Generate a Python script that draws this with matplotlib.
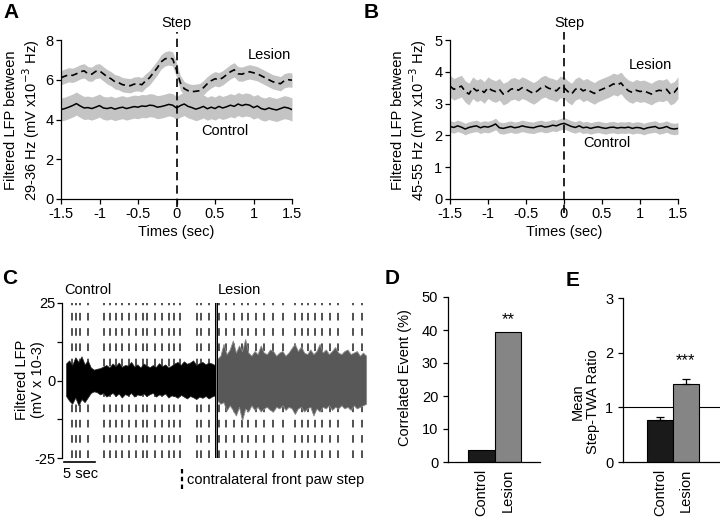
import numpy as np
import matplotlib
matplotlib.use("Agg")
import matplotlib.pyplot as plt
from matplotlib.lines import Line2D

plt.rcParams["font.family"] = ["Liberation Sans", "DejaVu Sans"]
plt.rcParams["font.size"] = 10
plt.rcParams["axes.linewidth"] = 0.9
plt.rcParams["xtick.direction"] = "out"
plt.rcParams["ytick.direction"] = "out"
plt.rcParams["xtick.major.size"] = 3.5
plt.rcParams["ytick.major.size"] = 3.5
plt.rcParams["xtick.major.width"] = 0.9
plt.rcParams["ytick.major.width"] = 0.9

# ---- panel A: 29-36 Hz, mean +/- SEM around the step (0.05 s grid) ----
lesion_A = [6.10, 6.18, 6.25, 6.22, 6.30, 6.40, 6.45, 6.30, 6.28, 6.42, 6.45, 6.30,
            6.15, 6.05, 5.90, 5.85, 5.75, 5.72, 5.70, 5.78, 5.80, 5.75, 5.95, 6.10,
            6.35, 6.60, 6.90, 7.05, 7.10, 7.05, 6.50, 5.85, 5.55, 5.45, 5.40, 5.42,
            5.45, 5.60, 5.80, 5.95, 6.05, 6.00, 6.10, 6.25, 6.40, 6.50, 6.30, 6.28,
            6.35, 6.40, 6.35, 6.30, 6.20, 6.10, 6.00, 5.90, 5.85, 5.80, 5.95, 6.00,
            5.98]
control_A = [4.50, 4.55, 4.62, 4.70, 4.80, 4.68, 4.58, 4.60, 4.55, 4.62, 4.70, 4.58,
             4.55, 4.60, 4.52, 4.58, 4.62, 4.55, 4.60, 4.65, 4.62, 4.68, 4.66, 4.72,
             4.70, 4.62, 4.65, 4.70, 4.76, 4.72, 4.58, 4.70, 4.78, 4.66, 4.60, 4.52,
             4.58, 4.66, 4.54, 4.62, 4.55, 4.66, 4.58, 4.64, 4.72, 4.66, 4.78, 4.70,
             4.76, 4.72, 4.60, 4.68, 4.55, 4.50, 4.58, 4.52, 4.48, 4.55, 4.62, 4.58,
             4.50]
sem_lesion_A = 0.36
sem_control_A = 0.58

# ---- panel B: 45-55 Hz ----
lesion_B = [3.55, 3.45, 3.50, 3.55, 3.38, 3.30, 3.50, 3.40, 3.45, 3.35, 3.50, 3.42,
            3.38, 3.45, 3.30, 3.35, 3.45, 3.48, 3.42, 3.50, 3.45, 3.38, 3.32, 3.40,
            3.50, 3.55, 3.48, 3.45, 3.40, 3.52, 3.50, 3.38, 3.30, 3.45, 3.50, 3.40,
            3.45, 3.38, 3.32, 3.40, 3.45, 3.50, 3.55, 3.62, 3.58, 3.65, 3.50, 3.40,
            3.35, 3.42, 3.38, 3.40, 3.35, 3.30, 3.38, 3.42, 3.40, 3.45, 3.30, 3.35,
            3.50]
control_B = [2.28, 2.25, 2.30, 2.26, 2.20, 2.25, 2.28, 2.30, 2.24, 2.28, 2.26, 2.30,
             2.36, 2.24, 2.22, 2.25, 2.28, 2.24, 2.26, 2.30, 2.27, 2.25, 2.24, 2.28,
             2.30, 2.26, 2.28, 2.32, 2.30, 2.35, 2.38, 2.33, 2.28, 2.25, 2.30, 2.24,
             2.26, 2.22, 2.25, 2.27, 2.24, 2.22, 2.25, 2.26, 2.23, 2.25, 2.24, 2.26,
             2.22, 2.25, 2.24, 2.20, 2.24, 2.26, 2.28, 2.22, 2.24, 2.28, 2.22, 2.20,
             2.22]
sem_lesion_B = 0.34
sem_control_B = 0.18

# ---- panel C: LFP envelope (0.5 s grid) and step times (sec) ----
ctrl_start, lesion_start = 0.0, 24.4
ctrl_upper = [5.5, 6.5, 5.0, 7.5, 6.0, 7.8, 5.2, 6.5, 4.2, 3.5, 3.8, 4.0, 4.5, 5.0,
              4.2, 5.5, 4.6, 5.8, 4.4, 5.0, 4.8, 6.0, 4.5, 5.2, 4.2, 5.5, 4.8, 4.3,
              5.0, 4.4, 5.6, 4.6, 5.2, 4.2, 4.8, 5.5, 6.0, 5.0, 6.2, 5.4, 5.8, 6.5,
              5.0, 5.6, 6.0, 5.2, 5.8, 5.5, 5.0]
ctrl_lower = [-5.0, -6.5, -7.5, -5.5, -8.0, -6.0, -7.0, -5.5, -4.0, -3.5, -3.8, -4.5,
              -4.0, -5.2, -4.6, -4.0, -5.0, -4.2, -5.5, -4.4, -4.8, -4.0, -5.2, -4.5,
              -4.8, -4.2, -5.0, -4.4, -4.0, -5.2, -4.5, -4.8, -4.2, -5.5, -4.8, -5.0,
              -5.6, -4.6, -5.2, -5.8, -5.0, -5.4, -6.0, -5.2, -5.6, -5.0, -5.8, -5.2,
              -4.8]
lesion_upper = [7.0, 8.0, 11.8, 8.5, 10.0, 12.9, 9.0, 11.3, 9.5, 13.4, 9.0, 8.0, 9.5,
                8.5, 11.3, 9.0, 8.5, 10.0, 9.5, 8.0, 9.0, 9.5, 8.0, 9.0, 10.5, 11.8,
                9.5, 11.0, 9.0, 8.5, 10.0, 8.5, 9.5, 11.8, 9.0, 10.0, 8.5, 9.5, 10.8,
                9.0, 8.5, 9.5, 10.0, 8.5, 9.0, 9.5, 8.0, 9.0, 8.0]
lesion_lower = [-6.5, -7.5, -7.0, -9.7, -8.0, -9.5, -11.3, -8.5, -12.9, -9.0, -10.0,
                -8.0, -9.5, -8.5, -10.0, -9.0, -8.5, -9.5, -10.0, -8.5, -9.0, -8.0,
                -9.5, -8.5, -9.0, -10.8, -9.0, -8.5, -10.0, -9.0, -8.5, -11.3, -9.0,
                -10.0, -8.5, -9.0, -8.0, -9.5, -8.5, -9.0, -8.0, -9.0, -8.5, -9.5,
                -8.0, -9.0, -8.5, -8.0, -7.5]
lesion_onset = 24.2
steps_ctrl = [0.92, 1.56, 2.26, 3.55, 6.18, 7.10, 8.06, 9.03, 10.08, 11.21, 12.42,
              13.06, 14.35, 15.48, 16.53, 17.42, 18.39, 21.13, 21.73, 22.98]
steps_lesion = [24.68, 25.81, 27.10, 28.34, 29.40, 30.65, 31.94, 33.34, 34.95, 36.94,
                38.02, 39.08, 40.16, 41.24, 42.58, 43.92, 46.24, 47.69]

# ---- panels D, E ----
groups = ["Control", "Lesion"]
correlated_event = [3.5, 39.5]
twa_ratio = [0.77, 1.43]
twa_err = [0.06, 0.09]
bar_colors = ["#1a1a1a", "#858585"]

W, H = 720, 525
fig = plt.figure(figsize=(W / 100, H / 100), dpi=100)


def px_axes(left, top, right, bottom):
    return fig.add_axes([left / W, 1 - bottom / H, (right - left) / W, (bottom - top) / H])


def px_text(x, y, s, **kw):
    fig.text(x / W, 1 - y / H, s, **kw)


def style(ax, spines=("left", "bottom")):
    for side in ("left", "right", "top", "bottom"):
        ax.spines[side].set_visible(side in spines)


def step_panel(ax, lesion, control, sem_l, sem_c, ymax, step_top, step_bot):
    t = np.linspace(-1.5, 1.5, len(lesion))
    les, ctl = np.array(lesion), np.array(control)
    ax.fill_between(t, les - sem_l, les + sem_l, color="#c4c4c4", lw=0)
    ax.fill_between(t, ctl - sem_c, ctl + sem_c, color="#c4c4c4", lw=0)
    ax.plot(t, les, color="black", lw=1.2, ls=(0, (4, 2.5)))
    ax.plot(t, ctl, color="black", lw=1.1)
    ax.plot([0, 0], [step_bot, step_top], color="black", lw=1.2,
            ls=(0, (5, 3)), clip_on=False)
    ax.set_xlim(-1.5, 1.5)
    ax.set_ylim(0, ymax)
    ax.set_xticks([-1.5, -1, -0.5, 0, 0.5, 1, 1.5])
    ax.set_xticklabels(["-1.5", "-1", "-0.5", "0", "0.5", "1", "1.5"])
    ax.tick_params(labelsize=10.5, pad=2)
    ax.set_xlabel("Times (sec)", fontsize=10.5, labelpad=3)
    style(ax)


# A
axA = px_axes(61, 40, 292, 199)
step_panel(axA, lesion_A, control_A, sem_lesion_A, sem_control_A, 8, 8.4, -0.4)
axA.set_yticks([0, 2, 4, 6, 8])
axA.text(1.21, 7.24, "Lesion", ha="center", va="center", fontsize=10.5)
axA.text(0.63, 3.42, "Control", ha="center", va="center", fontsize=10.5)
px_text(23, 120, "Filtered LFP between\n29-36 Hz (mV x10$^{-3}$ Hz)", rotation=90,
        ha="center", va="center", fontsize=10.5, linespacing=1.1)
px_text(176, 23, "Step", ha="center", va="center", fontsize=10.5)
px_text(3, 13, "A", fontsize=15, fontweight="bold", va="center")

# B
axB = px_axes(450, 40, 678, 199)
step_panel(axB, lesion_B, control_B, sem_lesion_B, sem_control_B, 5, 5.25, -0.44)
axB.set_yticks([0, 1, 2, 3, 4, 5])
axB.text(1.13, 4.21, "Lesion", ha="center", va="center", fontsize=10.5)
axB.text(0.57, 1.76, "Control", ha="center", va="center", fontsize=10.5)
px_text(410, 120, "Filtered LFP between\n45-55 Hz (mV x10$^{-3}$ Hz)", rotation=90,
        ha="center", va="center", fontsize=10.5, linespacing=1.1)
px_text(569, 23, "Step", ha="center", va="center", fontsize=10.5)
px_text(364, 13, "B", fontsize=15, fontweight="bold", va="center")

# C
axC = px_axes(62, 303, 372, 458)
axC.vlines(steps_ctrl + steps_lesion, -25, 25, colors="#222222", lw=1.1,
           linestyles=(0, (5, 5)), zorder=1)
tc = ctrl_start + 0.5 * np.arange(len(ctrl_upper))
tl = lesion_start + 0.5 * np.arange(len(lesion_upper))
axC.fill_between(tc, ctrl_lower, ctrl_upper, color="black", lw=0.5,
                 edgecolor="#2a2a2a", zorder=2)
axC.fill_between(tl, lesion_lower, lesion_upper, color="#585858", lw=0.6,
                 edgecolor="#8c8c8c", zorder=2)
axC.plot([lesion_onset, lesion_onset], [-25, 25], color="black", lw=2.2, zorder=3)
axC.plot([lesion_onset, lesion_onset], [-25, 25], color="#bbbbbb", lw=0.5, zorder=3)
axC.set_xlim(-0.65, 49.35)
axC.set_ylim(-25, 25)
axC.set_xticks([])
axC.set_yticks([-25, -12.5, 0, 12.5, 25])
axC.set_yticklabels(["-25", "", "0", "", "25"])
axC.tick_params(labelsize=10.5, pad=1)
style(axC, spines=("left",))
axC.plot([-0.32, 4.68], [-26.4, -26.4], color="black", lw=1.2, clip_on=False)
axC.text(2.4, -30.2, "5 sec", ha="center", va="center", fontsize=10.5)
axC.text(-0.3, 29.2, "Control", ha="left", va="center", fontsize=10.5)
axC.text(24.5, 29.2, "Lesion", ha="left", va="center", fontsize=10.5)
px_text(30, 380, "Filtered LFP\n(mV x 10-3)", rotation=90, ha="center",
        va="center", fontsize=10.5, linespacing=1.1)
px_text(2, 278, "C", fontsize=15, fontweight="bold", va="center")
fig.add_artist(Line2D([182 / W, 182 / W], [1 - 469 / H, 1 - 491 / H], color="black",
                      lw=1.6, ls=(0, (2, 1.5))))
px_text(187, 480, "contralateral front paw step", ha="left", va="center", fontsize=10.5)

# D
axD = px_axes(448, 297, 540, 462)
axD.bar([1, 2], correlated_event, width=1.0, color=bar_colors, edgecolor="black", lw=0.8)
axD.set_xlim(-0.24, 3.2)
axD.set_ylim(0, 50)
axD.set_yticks([0, 10, 20, 30, 40, 50])
axD.set_xticks([1, 2])
axD.set_xticklabels(groups, rotation=90)
axD.tick_params(axis="x", length=0, pad=5)
axD.tick_params(labelsize=10.5)
axD.text(2, 43.0, "**", ha="center", va="center", fontsize=12)
style(axD)
px_text(405, 378, "Correlated Event (%)", rotation=90, ha="center", va="center",
        fontsize=10.5)
px_text(385, 278, "D", fontsize=15, fontweight="bold", va="center")

# E
axE = px_axes(623, 298, 720, 462)
axE.axhline(1, color="black", lw=0.8, zorder=0)
axE.bar([1, 2], twa_ratio, width=1.0, color=bar_colors, edgecolor="black", lw=0.8,
        yerr=[[0, 0], twa_err], capsize=3,
        error_kw=dict(ecolor="black", elinewidth=0.9, capthick=0.9))
axE.set_xlim(-0.42, 3.31)
axE.set_ylim(0, 3)
axE.set_yticks([0, 1, 2, 3])
axE.set_xticks([1, 2])
axE.set_xticklabels(groups, rotation=90)
axE.tick_params(axis="x", length=0, pad=5)
axE.tick_params(labelsize=10.5)
axE.text(2, 1.85, "***", ha="center", va="center", fontsize=12)
style(axE)
px_text(585, 402, "Mean\nStep-TWA Ratio", rotation=90, ha="center", va="center",
        fontsize=10.5, linespacing=1.1)
px_text(566, 280, "E", fontsize=15, fontweight="bold", va="center")

fig.savefig("out.png", dpi=100)
